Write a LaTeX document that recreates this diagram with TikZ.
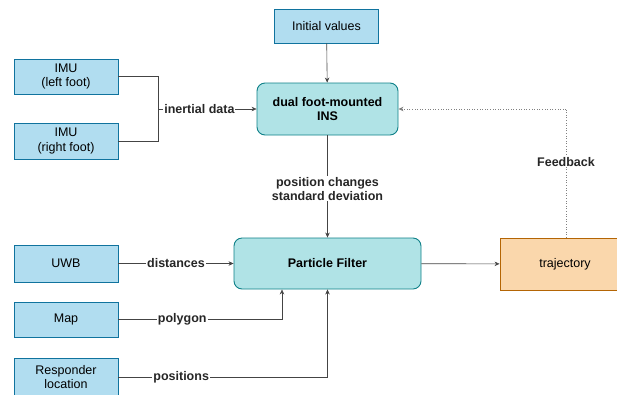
\documentclass[tikz,border=0pt]{standalone}
\usepackage{fontspec}
\setmainfont{Liberation Sans}
\usetikzlibrary{arrows.meta,calc}
\definecolor{bluefill}{HTML}{B1DDF0}
\definecolor{bluedraw}{HTML}{10739E}
\definecolor{tealfill}{HTML}{B0E3E6}
\definecolor{tealdraw}{HTML}{0E8088}
\definecolor{orfill}{HTML}{FAD7AC}
\definecolor{ordraw}{HTML}{B46504}
\definecolor{linec}{HTML}{444444}
\tikzset{
  bluebox/.style={draw=bluedraw,fill=bluefill,line width=0.9pt,minimum width=104pt,minimum height=35pt,align=center,inner sep=1pt,font=\fontsize{12.5}{14.5}\selectfont},
  tealbox/.style={draw=tealdraw,fill=tealfill,line width=0.9pt,rounded corners=8pt,align=center,inner sep=1pt,font=\fontsize{12.5}{14.5}\selectfont\bfseries},
  orbox/.style={draw=ordraw,fill=orfill,line width=0.9pt,align=center,inner sep=1pt,font=\fontsize{12.5}{14.5}\selectfont},
  conn/.style={draw=linec,line width=0.6pt},
  arr/.style={conn,-{Stealth[length=5pt,width=4.5pt]}},
  lbl/.style={fill=white,inner sep=1pt,text=black!85,align=center,font=\fontsize{12.5}{14}\selectfont\bfseries},
}
\begin{document}
\begin{tikzpicture}[x=1pt,y=-1pt]
\useasboundingbox (0,0) rectangle (617,394);
\node[bluebox,minimum width=104pt,minimum height=34pt] (init) at (326.5,26) {Initial values};
\node[tealbox,minimum width=141pt,minimum height=52pt] (ins) at (327.5,109) {dual foot-mounted\\INS};
\node[bluebox] (imuL) at (66,76.5) {IMU\\(left foot)};
\node[bluebox,minimum height=36pt] (imuR) at (66,141) {IMU\\(right foot)};
\node[tealbox,minimum width=187pt,minimum height=51pt] (pf) at (327.5,263.5) {Particle Filter};
\node[bluebox,minimum height=37pt] (uwb) at (66,263.5) {UWB};
\node[bluebox] (map) at (66,319.5) {Map};
\node[bluebox,minimum height=38pt] (resp) at (66,377) {Responder\\location};
\node[orbox,minimum width=130pt,minimum height=52pt] (traj) at (565,264) {trajectory};

\coordinate (join) at (158,109);
\coordinate (mapin) at ([xshift=-45.5pt]pf.south);
\coordinate (respin) at (pf.south);
\coordinate (fbtop) at (566,109);

\draw[arr] (init) -- (ins);
\draw[conn] (imuL.east) -| (join);
\draw[conn] (imuR.east) -| (join);
\draw[arr] (join) -- node[lbl,pos=0.42]{inertial data} (ins.west);
\draw[arr] (ins) -- node[lbl,pos=0.52]{position changes\\standard deviation} (pf);
\draw[arr] (uwb) -- node[lbl,pos=0.5]{distances} (pf);
\draw[arr] (map.east) -| node[lbl,pos=0.195]{polygon} (mapin);
\draw[arr] (resp.east) -| node[lbl,pos=0.15]{positions} (respin);
\draw[arr] (pf) -- (traj);
\draw[conn,draw=gray,dotted,line width=0.8pt] ([xshift=1pt]traj.north) -- node[lbl,pos=0.59]{Feedback} (fbtop);
\draw[conn,draw=gray,dotted,line width=0.8pt,-{Stealth[length=5pt,width=4.5pt]}] (fbtop) -- (ins.east);
\end{tikzpicture}
\end{document}
